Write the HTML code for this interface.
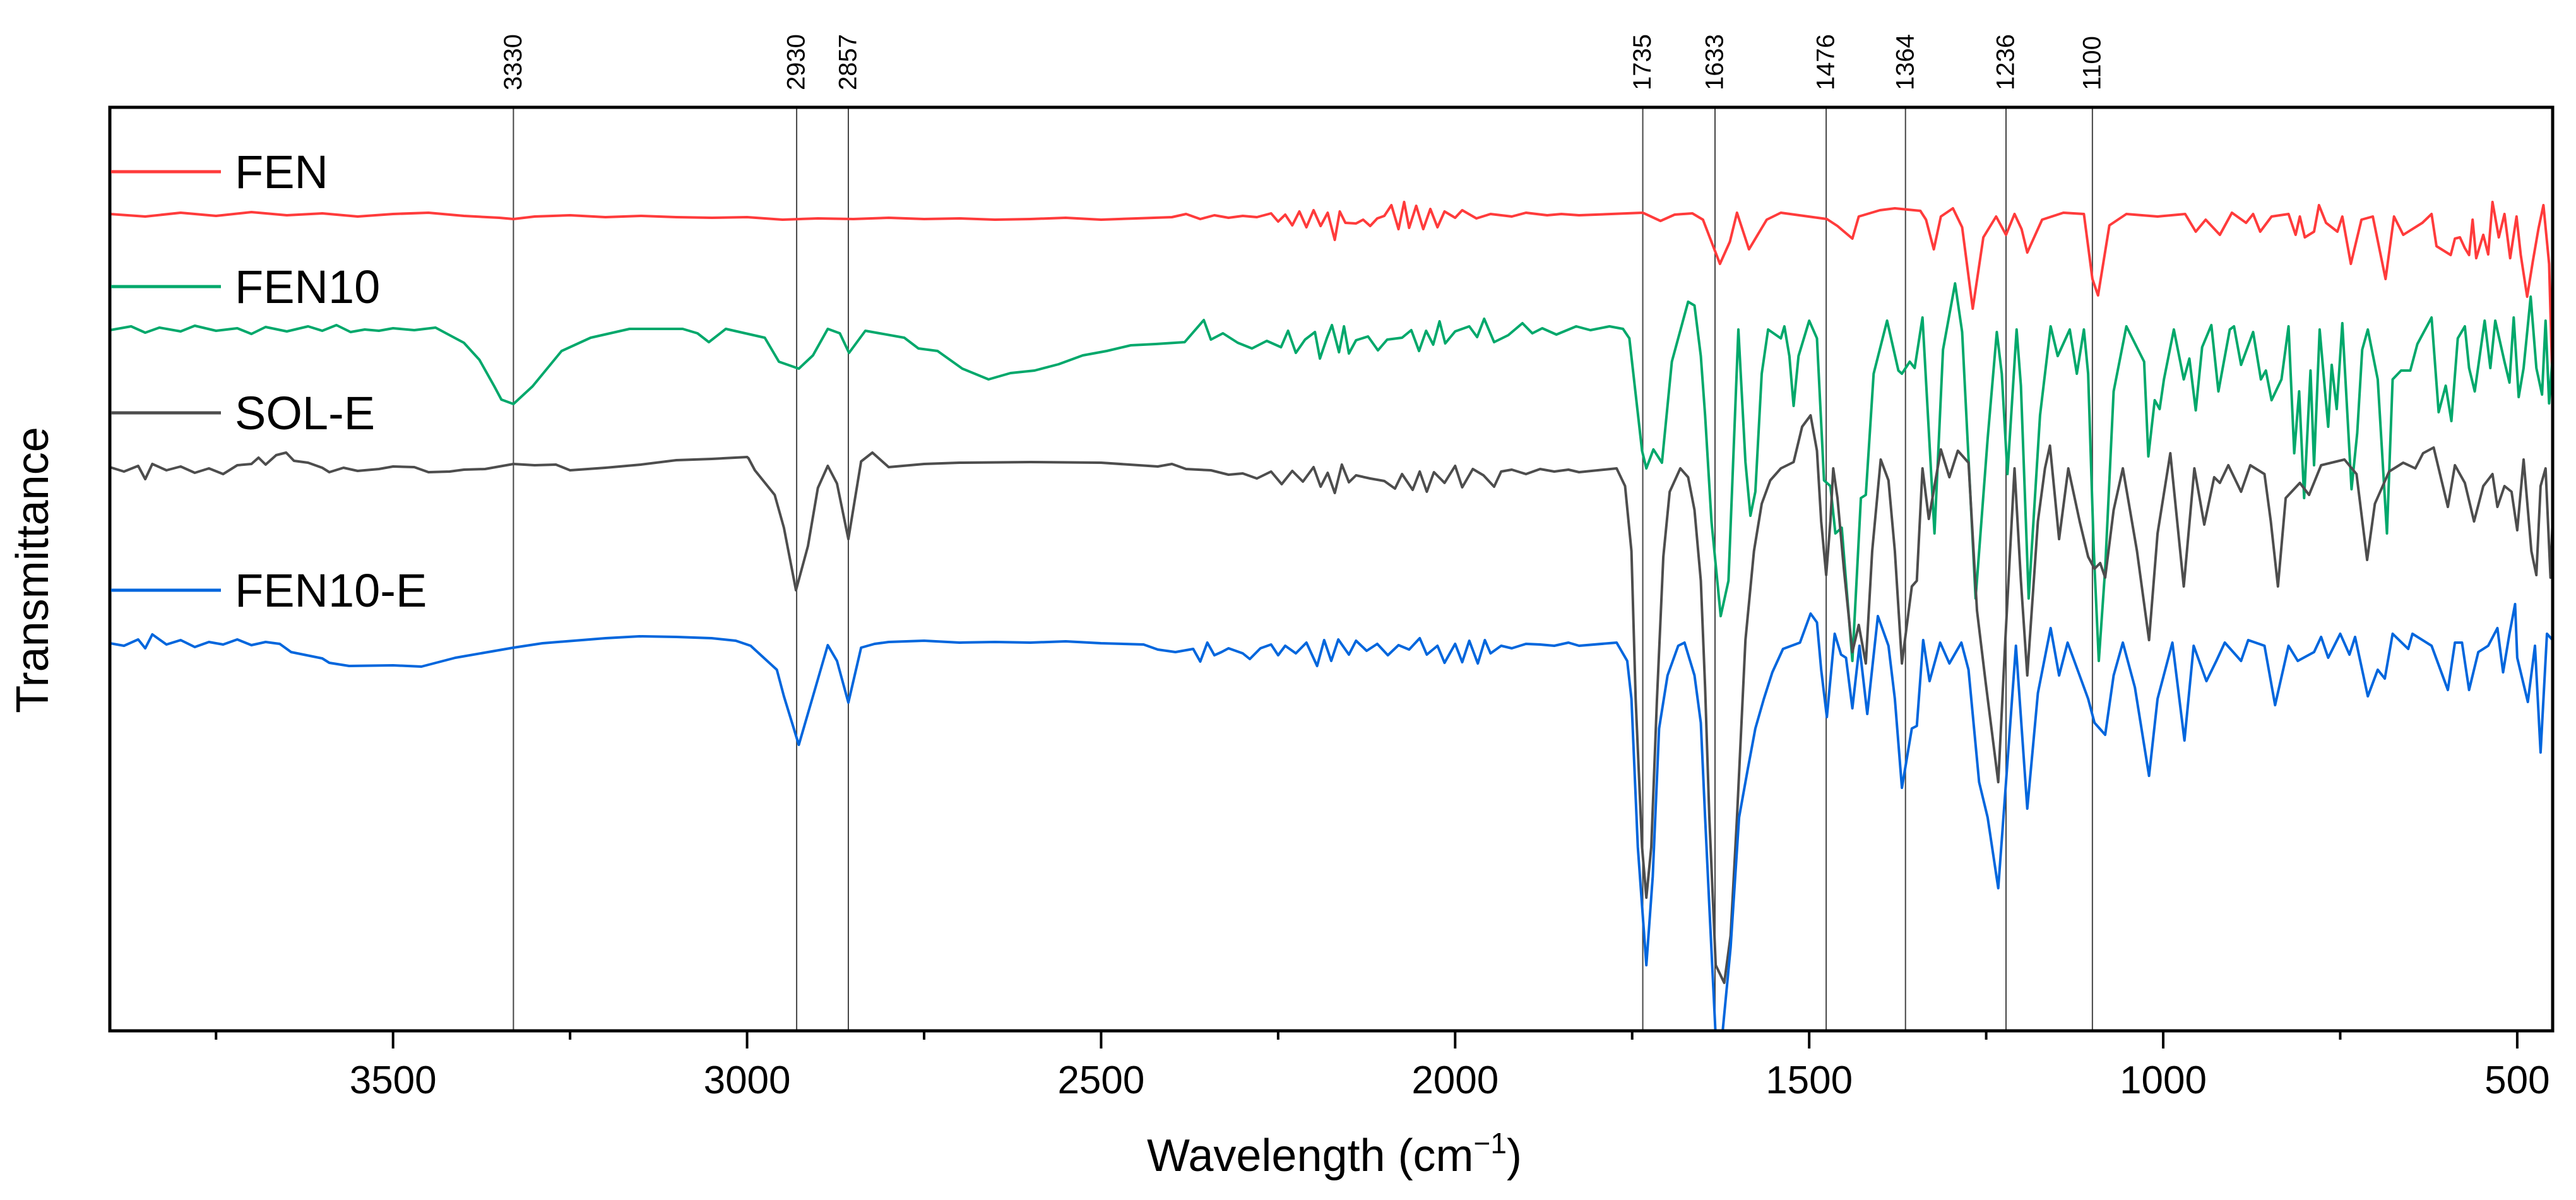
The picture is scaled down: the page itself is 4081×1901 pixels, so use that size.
<!DOCTYPE html>
<html><head><meta charset="utf-8"><title>FTIR spectra</title>
<style>
html,body{margin:0;padding:0;background:#fff;}
svg{display:block;font-family:"Liberation Sans",Arial,sans-serif;}
</style></head>
<body>
<svg id="chart" width="4081" height="1901" viewBox="0 0 4081 1901" xmlns="http://www.w3.org/2000/svg">
<defs><clipPath id="plotclip"><rect x="174" y="170" width="3870" height="1463"/></clipPath></defs>
<rect x="0" y="0" width="4081" height="1901" fill="#fff"/>
<g id="vlines"></g>
<g id="plabels"></g>
<g id="series" clip-path="url(#plotclip)"></g>
<rect x="174" y="170" width="3870" height="1463" fill="none" stroke="#000" stroke-width="5"/>
<g id="xticks"></g>
<g id="legend"></g>
<text x="2114" y="1855" font-size="72" text-anchor="middle">Wavelength (cm<tspan dy="-28" font-size="46">−1</tspan><tspan dy="28">)</tspan></text>
<text x="0" y="0" font-size="72" text-anchor="middle" transform="translate(76,903) rotate(-90)">Transmittance</text>
</svg>
<script>
const xTicksMajor = [3500, 3000, 2500, 2000, 1500, 1000, 500];
const xTicksMinor = [3750, 3250, 2750, 2250, 1750, 1250, 750];
const peakPositions = [3330, 2930, 2857, 1735, 1633, 1476, 1364, 1222, 1100];
const peakLabels = ["3330", "2930", "2857", "1735", "1633", "1476", "1364", "1236", "1100"];
const seriesNames = ["FEN", "FEN10", "SOL-E", "FEN10-E"];

const fen = [[3900,129.4],[3850,129.0],[3800,129.6],[3750,129.1],[3700,129.7],[3650,129.2],[3600,129.5],[3550,129.0],[3500,129.4],[3450,129.6],[3400,129.1],[3350,128.8],[3330,128.6],[3300,129.0],[3250,129.2],[3200,128.9],[3150,129.1],[3100,128.9],[3050,128.8],[3000,128.9],[2950,128.5],[2900,128.7],[2850,128.6],[2800,128.8],[2750,128.6],[2700,128.7],[2650,128.5],[2600,128.6],[2550,128.8],[2500,128.5],[2450,128.7],[2400,128.9],[2380,129.4],[2360,128.6],[2340,129.2],[2320,128.8],[2300,129.1],[2280,128.9],[2260,129.5],[2250,128.2],[2240,129.3],[2230,127.6],[2220,129.8],[2210,127.3],[2200,130.0],[2190,127.5],[2180,129.6],[2170,125.3],[2163,129.8],[2155,128.0],[2140,127.9],[2130,128.5],[2120,127.5],[2110,128.7],[2100,129.1],[2090,130.8],[2080,127.0],[2072,131.3],[2065,127.2],[2055,130.7],[2045,127.0],[2035,130.2],[2025,127.3],[2015,129.8],[2000,128.8],[1990,130.0],[1970,128.7],[1950,129.4],[1920,129.0],[1900,129.6],[1870,129.2],[1850,129.4],[1825,129.2],[1735,129.6],[1710,128.3],[1690,129.3],[1665,129.5],[1650,128.5],[1626,121.5],[1612,125.0],[1602,129.6],[1585,123.8],[1560,128.5],[1540,129.6],[1475,128.6],[1460,127.5],[1439,125.5],[1430,129.0],[1400,130.0],[1379,130.3],[1343,129.9],[1335,128.5],[1324,123.8],[1314,129.0],[1297,130.3],[1284,127.3],[1269,114.4],[1254,125.7],[1236,129.0],[1222,126.1],[1210,129.4],[1200,127.0],[1192,123.3],[1171,128.5],[1141,129.6],[1112,129.4],[1100,119.1],[1092,116.5],[1076,127.6],[1052,129.4],[1008,129.0],[969,129.4],[954,126.6],[940,128.5],[920,126.1],[903,129.6],[883,128.0],[873,129.4],[863,126.6],[847,129.0],[823,129.4],[813,126.1],[807,129.0],[800,125.7],[787,126.6],[780,130.8],[770,128.0],[754,126.6],[747,129.0],[735,121.5],[720,128.5],[704,129.0],[686,119.1],[674,129.0],[661,126.1],[634,128.0],[621,129.4],[614,124.3],[594,122.9],[588,125.5],[581,125.7],[574,124.0],[568,122.9],[563,128.5],[558,122.4],[548,126.1],[541,123.0],[535,131.3],[526,125.7],[518,129.4],[510,122.4],[501,129.0],[495,122.9],[486,116.3],[478,121.9],[470,127.1],[463,130.8],[455,121.5],[450,101.3],[448,97.5],[446,129.0]];

const fen10 = [[3900,111.0],[3870,111.6],[3850,110.6],[3830,111.4],[3800,110.8],[3780,111.7],[3750,110.9],[3720,111.3],[3700,110.4],[3680,111.5],[3650,110.8],[3620,111.6],[3600,110.9],[3580,111.8],[3560,110.7],[3540,111.1],[3520,110.9],[3500,111.3],[3470,111.0],[3440,111.4],[3420,110.2],[3400,109.0],[3378,106.3],[3357,102.1],[3347,100.0],[3330,99.3],[3303,102.1],[3262,107.7],[3221,109.8],[3166,111.2],[3091,111.2],[3070,110.5],[3054,109.1],[3030,111.2],[2975,109.8],[2955,106.0],[2927,104.9],[2907,107.0],[2886,111.2],[2869,110.5],[2856,107.4],[2833,110.9],[2778,109.8],[2758,108.1],[2731,107.7],[2696,104.9],[2659,103.2],[2628,104.2],[2594,104.6],[2560,105.6],[2526,107.0],[2492,107.7],[2458,108.6],[2423,108.8],[2382,109.1],[2355,112.6],[2345,109.5],[2328,110.5],[2307,109.0],[2287,108.1],[2266,109.3],[2246,108.3],[2236,110.9],[2225,107.4],[2212,109.5],[2198,110.7],[2191,106.5],[2181,109.8],[2174,111.8],[2164,107.5],[2157,111.6],[2150,107.3],[2140,109.4],[2123,110.0],[2109,107.8],[2096,109.5],[2075,109.8],[2062,111.0],[2051,107.7],[2041,110.9],[2031,108.7],[2022,112.4],[2014,108.9],[2000,110.8],[1980,111.6],[1969,109.9],[1959,112.8],[1945,109.1],[1925,110.2],[1905,112.1],[1891,110.5],[1877,111.3],[1857,110.3],[1829,111.6],[1809,111.0],[1782,111.6],[1763,111.2],[1754,109.7],[1736,91.9],[1730,89.1],[1720,92.1],[1708,90.0],[1694,106.0],[1671,115.5],[1662,114.9],[1653,106.9],[1647,97.5],[1638,80.7],[1625,65.7],[1614,71.3],[1600,111.1],[1590,90.1],[1583,81.6],[1576,85.4],[1567,104.1],[1558,111.1],[1540,109.7],[1535,111.6],[1528,106.9],[1522,99.0],[1515,106.9],[1500,112.5],[1489,109.7],[1479,87.2],[1470,86.3],[1463,78.8],[1454,79.7],[1439,58.6],[1427,84.4],[1420,84.9],[1409,104.1],[1390,112.5],[1374,104.6],[1369,104.1],[1358,106.0],[1351,105.0],[1340,113.0],[1323,78.8],[1311,107.9],[1294,118.4],[1284,110.7],[1265,68.5],[1248,93.8],[1235,110.7],[1228,104.1],[1220,88.2],[1207,111.1],[1201,102.2],[1190,68.5],[1174,97.5],[1159,111.6],[1149,106.9],[1132,111.1],[1122,104.1],[1112,111.1],[1106,104.1],[1098,76.0],[1091,58.6],[1082,73.2],[1070,101.3],[1052,111.6],[1027,106.0],[1021,91.0],[1012,99.9],[1005,98.5],[999,103.2],[985,111.1],[971,103.2],[963,106.5],[954,98.3],[945,108.3],[932,111.8],[922,101.3],[906,111.1],[900,111.6],[890,105.5],[873,110.7],[862,103.2],[855,104.6],[847,99.9],[833,103.2],[823,111.6],[815,91.5],[808,101.3],[801,84.4],[792,104.6],[787,89.6],[779,111.1],[767,95.7],[762,105.5],[755,98.5],[747,112.1],[734,85.8],[726,94.7],[719,107.9],[711,111.1],[697,103.2],[684,78.8],[676,103.2],[664,104.6],[651,104.6],[641,108.8],[621,113.0],[611,98.0],[601,102.2],[593,96.6],[584,109.7],[574,111.6],[568,105.0],[560,101.3],[546,112.5],[538,105.0],[531,112.5],[518,106.0],[511,102.7],[505,113.0],[498,100.4],[491,105.0],[481,116.3],[473,105.0],[465,100.8],[460,112.5],[455,99.4],[450,106.9],[447,112.5]];

const solE = [[3900,89.3],[3880,88.6],[3860,89.5],[3850,87.4],[3840,89.8],[3820,88.8],[3800,89.4],[3780,88.4],[3760,89.1],[3740,88.2],[3720,89.6],[3700,89.8],[3690,90.8],[3680,89.7],[3665,91.2],[3651,91.6],[3640,90.3],[3620,90.0],[3600,89.2],[3590,88.5],[3570,89.2],[3550,88.7],[3520,89.0],[3500,89.4],[3470,89.3],[3450,88.5],[3420,88.6],[3400,88.9],[3370,89.0],[3330,89.8],[3300,89.6],[3270,89.7],[3250,88.8],[3200,89.2],[3150,89.7],[3100,90.4],[3050,90.6],[3000,90.9],[2998,90.7],[2989,88.8],[2961,84.9],[2948,79.7],[2931,69.8],[2914,76.8],[2900,86.0],[2886,89.5],[2873,86.7],[2857,77.9],[2839,90.2],[2823,91.6],[2800,89.3],[2750,89.8],[2700,90.0],[2600,90.1],[2500,90.0],[2420,89.4],[2400,89.8],[2380,89.0],[2345,88.8],[2320,88.1],[2300,88.3],[2280,87.5],[2260,88.6],[2245,86.6],[2230,88.7],[2215,87.0],[2200,89.3],[2190,86.2],[2180,88.4],[2170,85.2],[2160,89.7],[2150,86.9],[2140,88.0],[2120,87.5],[2100,87.1],[2085,85.9],[2075,88.2],[2060,85.7],[2050,88.6],[2040,85.4],[2030,88.5],[2015,86.8],[2000,89.5],[1990,86.1],[1975,89.0],[1960,88.0],[1945,86.2],[1935,88.6],[1920,88.9],[1900,88.2],[1880,89.0],[1860,88.6],[1840,88.9],[1825,88.5],[1772,89.1],[1760,86.3],[1751,76.0],[1745,52.5],[1736,29.1],[1730,21.1],[1723,29.1],[1715,52.5],[1706,75.1],[1697,85.4],[1682,89.1],[1671,87.7],[1662,82.5],[1653,71.3],[1647,54.4],[1641,33.8],[1632,10.4],[1620,7.6],[1611,15.1],[1602,33.8],[1590,61.9],[1578,76.0],[1567,83.5],[1555,87.2],[1540,89.1],[1522,90.1],[1510,95.7],[1498,97.5],[1489,91.9],[1483,80.7],[1476,72.2],[1470,80.7],[1466,89.1],[1460,84.4],[1451,73.2],[1439,60.0],[1430,64.3],[1420,58.2],[1411,76.0],[1399,90.5],[1388,87.2],[1379,76.0],[1369,58.2],[1355,70.4],[1348,71.3],[1340,89.1],[1331,81.1],[1314,92.1],[1302,87.7],[1290,91.9],[1275,90.0],[1263,66.6],[1251,55.4],[1233,39.4],[1223,61.9],[1210,89.1],[1201,71.3],[1192,56.3],[1177,80.7],[1167,89.1],[1160,92.7],[1147,77.9],[1134,89.1],[1118,80.7],[1106,75.1],[1097,73.2],[1089,74.1],[1082,71.8],[1070,82.5],[1057,89.1],[1037,76.0],[1020,61.9],[1008,78.8],[990,91.5],[971,70.4],[956,89.1],[942,80.2],[928,87.7],[920,86.8],[908,89.6],[890,85.4],[877,89.6],[857,88.2],[848,80.7],[838,70.4],[827,84.4],[807,86.8],[794,84.9],[777,89.6],[744,90.5],[727,88.2],[712,74.6],[701,83.5],[681,88.6],[661,90.0],[644,89.1],[633,91.5],[618,92.4],[598,83.0],[588,89.6],[574,86.8],[561,80.7],[548,86.3],[535,88.2],[528,83.0],[518,86.3],[508,85.4],[500,79.3],[491,90.5],[480,76.0],[473,72.2],[467,86.3],[460,89.1],[453,71.8],[447,90.5]];

const fen10E = [[3900,61.4],[3880,61.0],[3860,62.0],[3850,60.6],[3840,62.8],[3820,61.2],[3800,61.9],[3780,60.8],[3760,61.6],[3740,61.2],[3720,62.0],[3700,61.1],[3680,61.6],[3660,61.3],[3644,60.0],[3600,59.0],[3590,58.3],[3562,57.8],[3500,57.9],[3460,57.7],[3412,59.1],[3330,60.7],[3289,61.4],[3200,62.2],[3152,62.5],[3100,62.4],[3050,62.2],[3016,61.8],[2995,61.0],[2958,57.2],[2948,53.0],[2927,45.3],[2907,53.0],[2886,61.1],[2873,58.6],[2857,52.0],[2839,60.7],[2820,61.3],[2800,61.6],[2750,61.8],[2700,61.5],[2650,61.6],[2600,61.5],[2550,61.7],[2500,61.4],[2440,61.2],[2420,60.4],[2395,60.0],[2370,60.5],[2360,58.5],[2350,61.5],[2340,59.5],[2330,60.0],[2320,60.6],[2300,59.8],[2290,58.9],[2275,60.6],[2260,61.2],[2250,59.5],[2240,61.0],[2225,59.8],[2210,61.5],[2195,57.8],[2185,61.9],[2175,58.6],[2165,62.0],[2150,59.6],[2140,61.8],[2125,60.2],[2110,61.3],[2095,59.5],[2080,61.1],[2065,60.4],[2050,62.2],[2040,59.6],[2025,61.0],[2015,58.3],[2000,61.3],[1990,58.4],[1980,61.8],[1968,58.2],[1958,61.9],[1950,59.8],[1935,61.0],[1920,60.6],[1900,61.3],[1880,61.2],[1860,61.0],[1840,61.5],[1825,61.0],[1772,61.5],[1757,58.6],[1751,52.6],[1742,29.1],[1730,10.4],[1721,24.4],[1712,47.9],[1700,56.3],[1685,61.0],[1676,61.5],[1662,56.3],[1653,48.8],[1647,33.8],[1641,19.7],[1632,-1.0],[1623,-1.0],[1611,13.2],[1599,33.8],[1587,41.3],[1576,47.9],[1564,52.6],[1552,56.8],[1537,60.5],[1513,61.5],[1498,66.1],[1489,64.7],[1483,57.2],[1475,49.7],[1464,62.9],[1455,59.6],[1448,59.1],[1439,51.1],[1429,61.0],[1418,50.2],[1403,65.7],[1388,61.0],[1379,52.6],[1369,38.5],[1355,47.9],[1348,48.3],[1339,61.9],[1330,55.4],[1315,61.5],[1302,58.2],[1285,61.5],[1275,57.2],[1260,39.4],[1248,33.8],[1233,22.6],[1222,39.4],[1208,61.0],[1192,35.2],[1177,53.5],[1159,63.8],[1147,56.3],[1135,61.5],[1121,57.2],[1106,52.6],[1097,48.8],[1082,46.9],[1070,56.3],[1057,61.5],[1040,54.4],[1020,40.4],[1008,52.6],[987,61.5],[970,46.0],[957,61.0],[939,55.4],[925,58.6],[913,61.5],[890,58.6],[880,61.9],[857,61.0],[842,51.6],[823,61.0],[810,58.6],[787,60.0],[777,62.4],[767,59.1],[750,62.9],[737,59.6],[729,62.4],[711,53.0],[697,57.2],[687,55.8],[676,62.9],[654,60.5],[648,62.9],[621,61.0],[598,54.0],[588,61.5],[578,61.5],[568,54.0],[555,60.0],[541,61.0],[528,63.8],[520,56.8],[511,62.9],[503,67.6],[500,59.1],[485,52.1],[475,61.0],[467,44.1],[458,62.9],[450,61.9],[445,37.6]];

const seriesColors = ["#ff3b3b", "#00a86b", "#4d4d4d", "#0066dd"];
const NS = "http://www.w3.org/2000/svg";
const PL = 174, PR = 4044, PT = 170, PB = 1633;
const X_MIN = 3900, X_MAX = 450, Y_MIN = 0, Y_MAX = 146.3;
function xScale(wn){ return PL + (X_MIN - wn) / (X_MIN - X_MAX) * (PR - PL); }
function yScale(v){ return PB - (v - Y_MIN) / (Y_MAX - Y_MIN) * (PB - PT); }
function mk(tag, attrs, parent){ const e = document.createElementNS(NS, tag); for (const k in attrs) e.setAttribute(k, attrs[k]); parent.appendChild(e); return e; }

// peak marker lines & labels
const vl = document.getElementById('vlines');
const pl = document.getElementById('plabels');
peakPositions.forEach((p, i) => {
  const x = xScale(p);
  const ln = mk('line', {x1: x, x2: x, y1: PT, y2: PB, stroke: '#444', 'stroke-width': 2}, vl);
  
  
  const t = mk('text', {x: 0, y: 0, 'font-size': 40, 'dominant-baseline': 'middle', transform: 'translate(' + (x + 2) + ',143) rotate(-90)'}, pl);
  t.textContent = peakLabels[i];
  
  
});

// series
const sg = document.getElementById('series');
[fen, fen10, solE, fen10E].forEach((data, i) => {
  const d = data.map((p, j) => (j ? 'L' : 'M') + xScale(p[0]).toFixed(1) + ' ' + yScale(p[1]).toFixed(1)).join(' ');
  const path = mk('path', {d: d, fill: 'none', stroke: seriesColors[i], 'stroke-width': 4, 'stroke-linejoin': 'round'}, sg);
  
  
});

// x ticks
const xt = document.getElementById('xticks');
xTicksMajor.forEach(v => {
  const x = xScale(v);
  const tk = mk('line', {x1: x, x2: x, y1: PB, y2: PB + 28, stroke: '#000', 'stroke-width': 4}, xt);
  
  
  const t = mk('text', {x: x, y: 1732, 'font-size': 62, 'text-anchor': 'middle'}, xt);
  t.textContent = v;
  
  
});
xTicksMinor.forEach(v => {
  const x = xScale(v);
  const tk = mk('line', {x1: x, x2: x, y1: PB, y2: PB + 14, stroke: '#000', 'stroke-width': 4}, xt);
  
  
});

// legend
const lg = document.getElementById('legend');
const legendLineY = [272, 454, 654, 935];
seriesNames.forEach((n, i) => {
  const g = mk('g', {}, lg);
  
  
  mk('line', {x1: 176, x2: 350, y1: legendLineY[i], y2: legendLineY[i], stroke: seriesColors[i], 'stroke-width': 5}, g);
  const t = mk('text', {x: 372, y: legendLineY[i] + 26, 'font-size': 74}, g);
  t.textContent = n;
});
</script>
</body></html>
